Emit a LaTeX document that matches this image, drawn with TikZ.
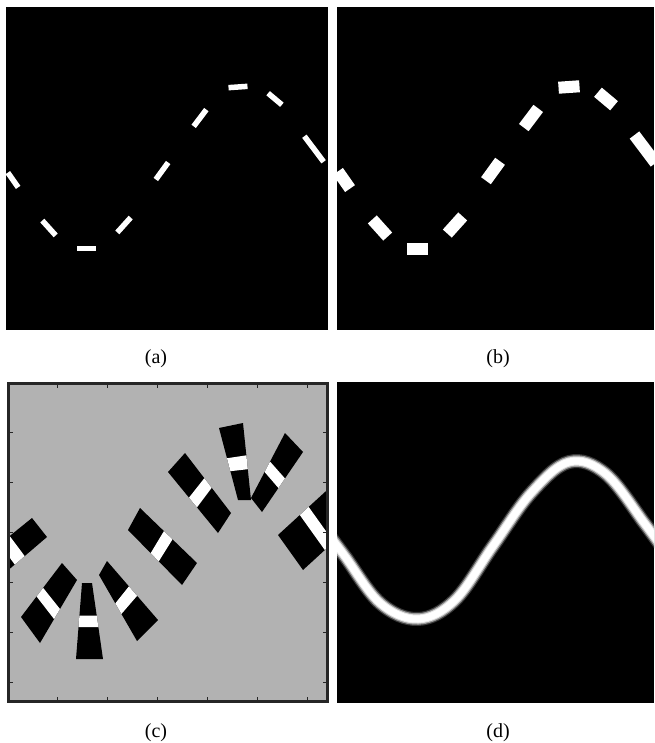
\documentclass[tikz,border=0pt]{standalone}
\usepackage{fontspec}
\setmainfont{Liberation Serif}
\usetikzlibrary{calc}
\begin{document}
\begin{tikzpicture}[x=1pt,y=-1pt,
  dashA/.style={white,line width=5.5pt},
  dashB/.style={white,line width=12pt},
  blob/.style={fill=black},
  bandw/.style={fill=white},
  tickmark/.style={draw=black!85,line width=1pt},
  lab/.style={anchor=base,font=\fontsize{20}{24}\selectfont,inner sep=0pt}]
\useasboundingbox (0,0) rectangle (654,743);
\fill[white] (0,0) rectangle (654,743);
% ---------- panel (a)
\fill[black] (6,7) rectangle (328,330);
\begin{scope}
\clip (6,7) rectangle (328,330);
\foreach \cx/\cy/\an/\h in {13/180/55/9, 49/228/48/10, 86/248.5/0/9.5, 124/225/-48/10, 162/171/-54/10.5, 200/118/-53/10.5, 238/87/-4/9.5, 275/99/40/9, 314/149/53/16}{
  \draw[dashA] (\cx,\cy) ++(\an:\h) -- ++(\an+180:2*\h);
}
\end{scope}
% ---------- panel (b)
\fill[black] (337,7) rectangle (654,330);
\begin{scope}
\clip (337,7) rectangle (654,330);
\foreach \cx/\cy/\an/\h in {13/180/55/10.5, 49/228/48/11.5, 86/248.5/0/10.5, 124/225/-48/11.5, 162/171/-54/12, 200/118/-53/12, 238/87/-4/10.5, 275/99/40/10.5, 314/149/53/17.5}{
  \draw[dashB] (\cx+331,\cy) ++(\an:\h) -- ++(\an+180:2*\h);
}
\end{scope}
% ---------- panel (c)
\fill[black!30] (8.5,383.5) rectangle (327.5,701.5);
\begin{scope}
\clip (10,385) rectangle (326,700);
\foreach \ax/\ay/\bx/\by/\qx/\qy/\px/\py/\fa/\fb in {
  32/518/47/537/-15/590/-30/568/0.36/0.52,
  62/563/77/580/40/643/21/617/0.46/0.62,
  82/583/92/583/103/659/76/659/0.43/0.58,
  107/561/99/575/137/641/158/620/0.43/0.59,
  140/508/128/530/182/585/197/563/0.42/0.57,
  185/453/168/472/218/533/231/513/0.42/0.58,
  219/428/243/423/251/500/238/500/0.42/0.60,
  285/433/303/452/262/512/251/498/0.44/0.60,
  278/535/303/570/362/516/337/481/0.37/0.52}{
  \fill[blob] (\ax,\ay) -- (\bx,\by) -- (\qx,\qy) -- (\px,\py) -- cycle;
  \fill[bandw] ($(\ax,\ay)!\fa!(\px,\py)$) -- ($(\bx,\by)!\fa!(\qx,\qy)$)
     -- ($(\bx,\by)!\fb!(\qx,\qy)$) -- ($(\ax,\ay)!\fb!(\px,\py)$) -- cycle;
}
\end{scope}
\draw[line width=3pt,black!85] (8.5,383.5) rectangle (327.5,701.5);
\foreach \t in {57,107,157,207,257,307}{
  \draw[tickmark] (\t,385) -- ++(0,3);
  \draw[tickmark] (\t,700) -- ++(0,-3);
}
\foreach \t in {432,482,532,582,632,682}{
  \draw[tickmark] (10,\t) -- ++(3,0);
  \draw[tickmark] (326,\t) -- ++(-3,0);
}
% ---------- panel (d)
\fill[black] (337,382) rectangle (654,703);
\begin{scope}
\clip (337,382) rectangle (654,703);
\foreach \w/\c in {14/white!22!black, 11.5/white!60!black, 9/white!90!black, 7/white}{
  \draw[line width=\w pt, color=\c] plot[smooth, tension=0.6] coordinates {(318,520) (344,555) (380,603) (418,619) (455,600) (493,546) (531,493) (569,462) (606,474) (645,524) (666,553)};
}
\end{scope}
% ---------- labels
\node[lab] (la) at (156,363.5) {(a)};
\node[lab] (lb) at (498,363.5) {(b)};
\node[lab] (lc) at (156,737.5) {(c)};
\node[lab] (ld) at (498,737.5) {(d)};
\end{tikzpicture}
\end{document}
